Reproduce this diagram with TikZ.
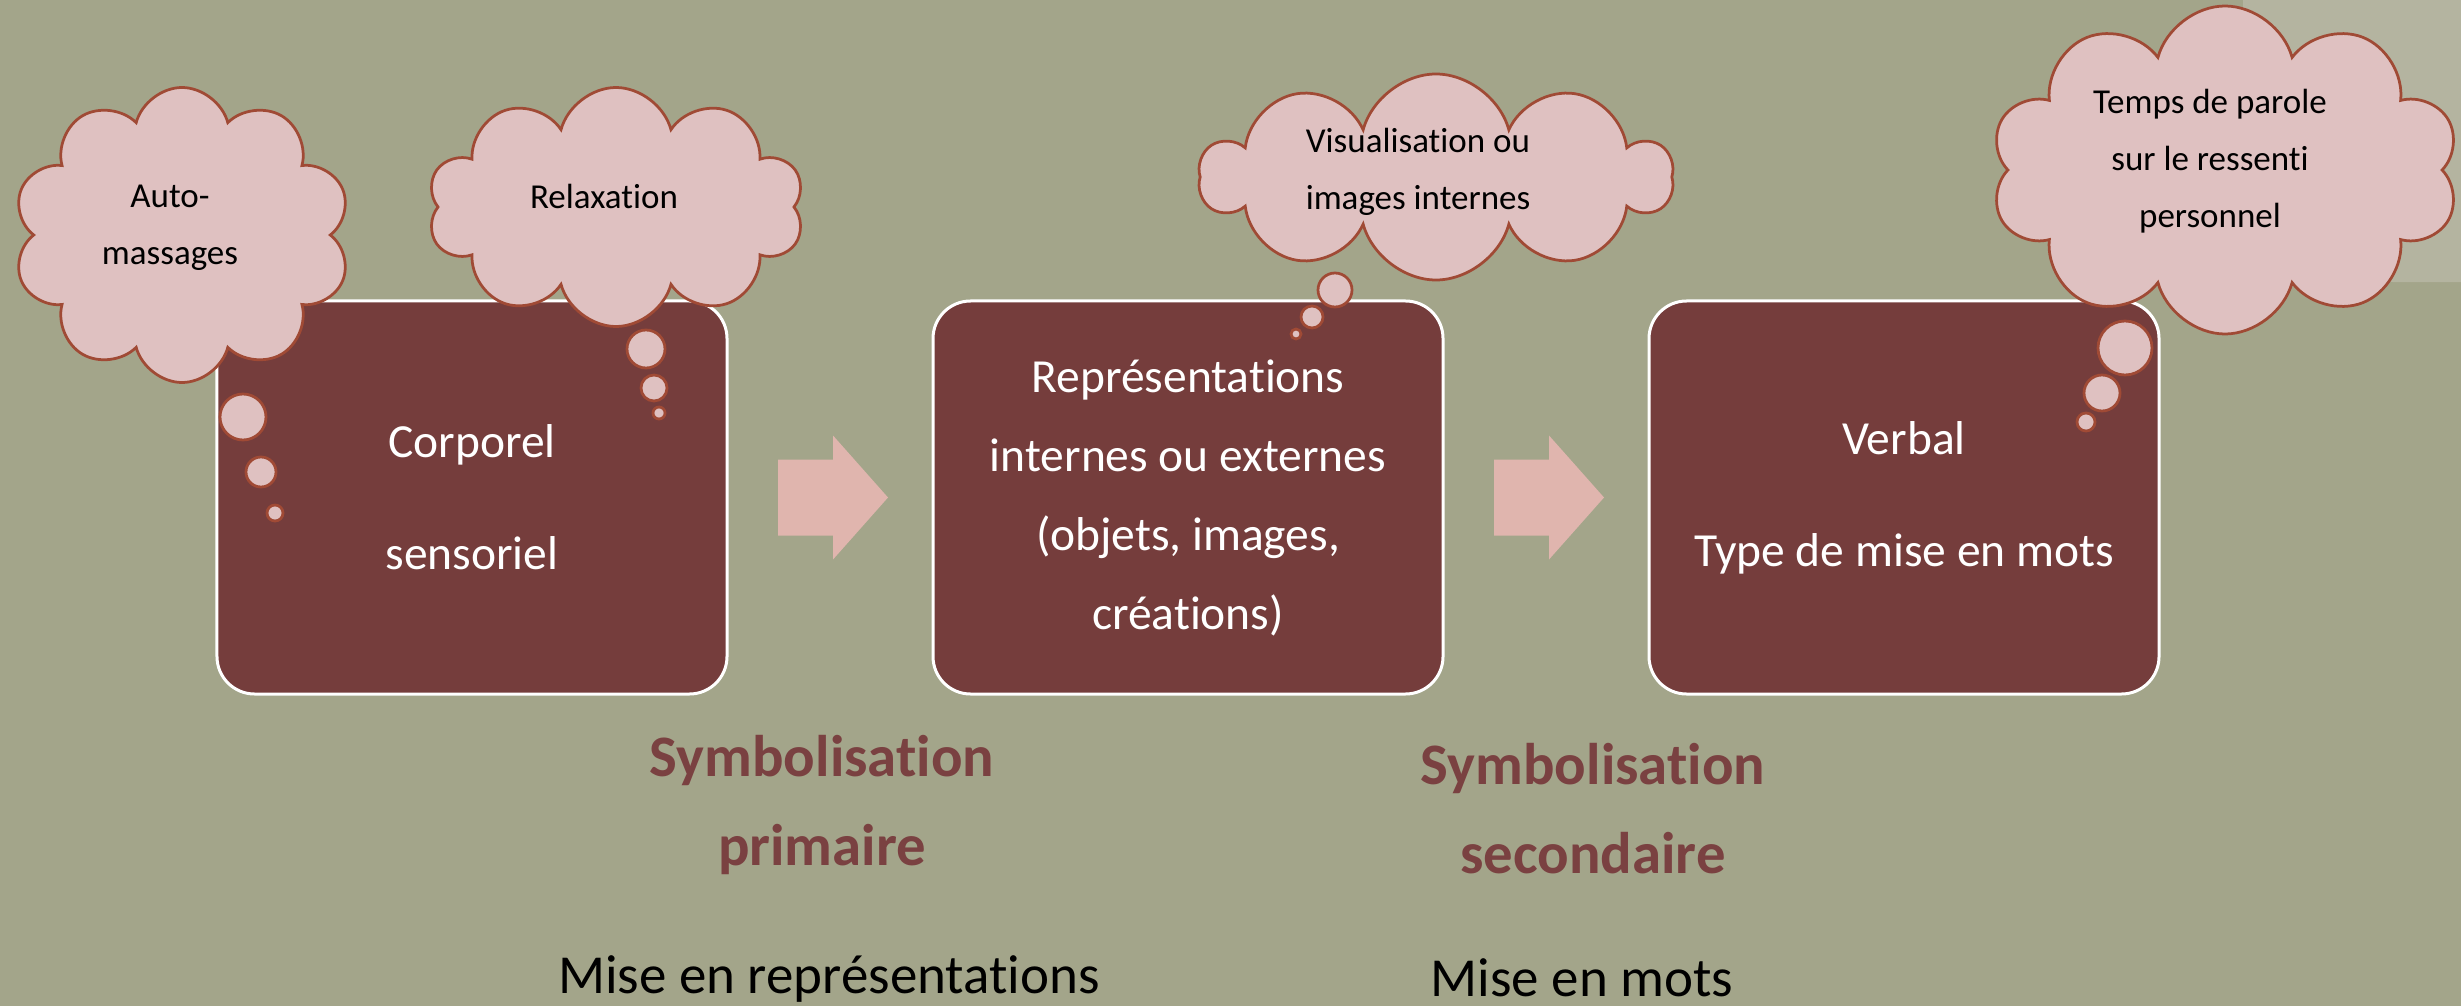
\documentclass[tikz,border=0pt]{standalone}
\usepackage{fontspec}
\setmainfont{Carlito}[Ligatures=NoCommon]
\usepackage{tikz}
\usetikzlibrary{shapes.symbols,calc}

\definecolor{bgolive}{HTML}{A3A58A}
\definecolor{paleolive}{HTML}{B4B4A0}
\definecolor{stagebrown}{HTML}{753D3C}
\definecolor{cloudpink}{HTML}{DFC1C1}
\definecolor{cloudrust}{HTML}{A04A35}
\definecolor{arrowpink}{HTML}{E0B5AE}
\definecolor{symbred}{HTML}{7A4141}

\begin{document}
\begin{tikzpicture}[x=0.4pt,y=-0.4pt,node distance=286.4pt]
            \tikzstyle{stage}=[draw=white,line width=1.2pt,fill=stagebrown,rounded corners=15pt,minimum width=204pt,minimum height=157.2pt,text=white,align=center,font=\fontsize{19}{31.6}\selectfont]
            \tikzstyle{thought}=[cloud,cloud puffs=10,cloud ignores aspect,draw=cloudrust,fill=cloudpink,line width=1.1pt,inner sep=0pt]
            \tikzstyle{bubble}=[circle,draw=cloudrust,fill=cloudpink,line width=1.1pt,inner sep=0pt]
            \tikzstyle{thinking}=[align=center,text=black,font=\fontsize{14}{22.8}\selectfont]
            \tikzstyle{blockarr}=[fill=arrowpink]
            \tikzstyle{symb}=[align=center,text=symbred,font=\bfseries\fontsize{23.5}{35.6}\selectfont]
            \tikzstyle{mise}=[text=black,font=\fontsize{22}{26}\selectfont]
            \useasboundingbox (0,0) rectangle (2461,1006);
            \fill[bgolive] (0,0) rectangle (2461,1006);
            \fill[paleolive,rounded corners=60pt] (2243,-400) rectangle (2700,282);
            % the three stages
            \node[stage] (corp)                    at (472,497.5) {Corporel\\[13.2pt]sensoriel};
            \node[stage] (repr) [right of=corp]  {Représentations\\internes ou externes\\(objets, images,\\créations)};
            \node[stage] (verb) [right of=repr]  {Verbal\\[13.2pt]Type de mise en mots};
            % block arrows between stages
            \coordinate (a1) at ($(corp.east)!.5!(repr.west)$);
            \coordinate (a2) at ($(repr.east)!.5!(verb.west)$);
            \foreach \a in {a1,a2}
                \fill[blockarr] ($(\a)+(-52,-38)$) -- ++(55,0) -- ++(0,-24) -- ++(55,62) -- ++(-55,62) -- ++(0,-24) -- ++(-55,0) -- cycle;
            % thought clouds
            \node[thought,minimum width=135.2pt,minimum height=118pt] (auto) at (182,235) {};
            \node[thought,minimum width=150.8pt,minimum height=95.6pt] (relax) at (616,207) {};
            \node[thought,minimum width=188.8pt,minimum height=82.4pt] (visu) at (1436,177) {};
            \node[thought,minimum width=187.6pt,minimum height=131.2pt] (parole) at (2225,170) {};
            \node[thinking] at (170,228) {Auto-\\massages};
            \node[thinking] at (604,196) {Relaxation};
            \node[thinking] at (1418,172) {Visualisation ou\\images internes};
            \node[thinking] at (2210,161) {Temps de parole\\sur le ressenti\\personnel};
            % little bubbles
            \foreach \x/\y/\r in {243/417/23,261/472/15,275/513/8,646/349/19,654/388/13,659/413/6,1335/290/17,1312/317/11,1296/334/5,2125/348/27,2102/393/18,2086/422/9}
                \node[bubble,minimum size=0.8pt*\r] at (\x,\y) {};
            % captions
            \node[symb] (prim) at (822,805) {Symbolisation\\primaire};
            \node[symb] (sec)  at (1593,809) {Symbolisation\\secondaire};
            \node[mise] (mrep)  at (829,979) {Mise en représentations};
            \node[mise] (mmots) at (1582,978) {Mise en mots};
        \end{tikzpicture}
\end{document}
